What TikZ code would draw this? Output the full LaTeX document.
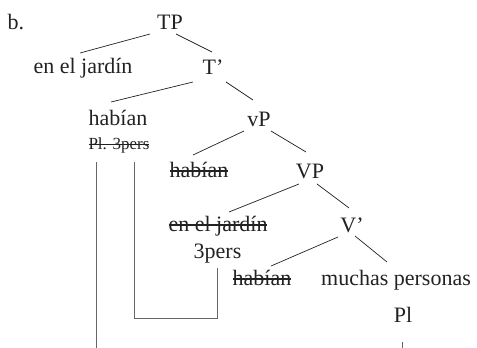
\documentclass[tikz,border=0pt]{standalone}
\usepackage{fontspec}
\setmainfont{Liberation Serif}
\usetikzlibrary{calc}
\newcommand\strk[1]{\leavevmode\setbox0\hbox{#1}\rlap{\rule[0.24em]{\wd0}{1.4pt}}\box0}
\definecolor{ink}{HTML}{222222}
\tikzset{
  lab/.style={anchor=base, inner sep=0pt, text=ink, font=\fontsize{22}{24}\selectfont},
  small/.style={anchor=base, inner sep=0pt, text=ink, font=\fontsize{17}{19}\selectfont},
  br/.style={draw=ink, line width=0.7pt},
  mv/.style={draw=gray!80!black, line width=0.9pt}
}
\begin{document}
\begin{tikzpicture}[x=1pt,y=-1pt]
\useasboundingbox (0,0) rectangle (477,348);
\node[lab] (b) at (16,30) {b.};
\node[lab] (TP) at (170,30) {TP};
\node[lab] (enj) at (83,73.5) {en el jardín};
\node[lab] (Tb) at (213,74) {T’};
\node[lab] (hab) at (118,125) {habían};
\node[small] (pl3) at (119,149) {\strk{Pl. 3pers}};
\node[lab] (vP) at (259,126) {vP};
\node[lab] (hab2) at (199,177) {\strk{habían}};
\node[lab] (VP) at (310,178) {VP};
\node[lab] (enj2) at (218,231) {\strk{en el jardín}};
\node[lab] (tp3) at (217.5,258) {3pers};
\node[lab] (Vb) at (352,232) {V’};
\node[lab] (hab3) at (262,285) {\strk{habían}};
\node[lab] (much) at (396,285) {muchas personas};
\node[lab] (Pl) at (403,322) {Pl};
\coordinate (end1) at (96,348);
\coordinate (end2) at (402,348);
% tree branches
\draw[br] ($(TP.base)+(-20,4)$) -- ($(enj.base)+(-3,-20.5)$);
\draw[br] ($(TP.base)+(6,4)$) -- ($(Tb.base)+(-1,-22)$);
\draw[br] ($(Tb.base)+(-20,8)$) -- ($(hab.base)+(-7,-23)$);
\draw[br] ($(Tb.base)+(13,8)$) -- ($(vP.base)+(-6,-26)$);
\draw[br] ($(vP.base)+(-15,5)$) -- ($(hab2.base)+(-6,-22)$);
\draw[br] ($(vP.base)+(12,5)$) -- ($(VP.base)+(-4,-26)$);
\draw[br] ($(VP.base)+(-11,6)$) -- ($(enj2.base)+(11,-19)$);
\draw[br] ($(VP.base)+(7,6)$) -- ($(Vb.base)+(-3,-24)$);
\draw[br] ($(Vb.base)+(-14,5)$) -- ($(hab3.base)+(9,-19)$);
\draw[br] ($(Vb.base)+(3,4)$) -- ($(much.base)+(-9,-23)$);
% movement lines
\draw[mv] ($(pl3.base)+(-23,13)$) -- (end1);
\draw[mv] ($(pl3.base)+(15,13)$) |- ($(tp3.base)+(0,60)$) -- ($(tp3.base)+(0,10)$);
\draw[mv] ($(Pl.base)+(-1,20)$) -- (end2);
\end{tikzpicture}
\end{document}
